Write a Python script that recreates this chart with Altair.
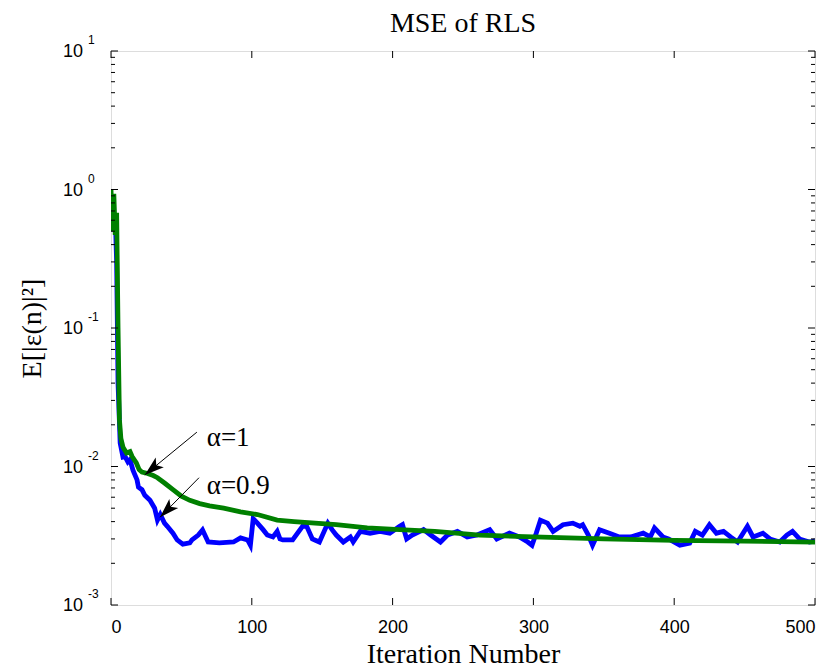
import altair as alt
import pandas as pd

# ---- MSE learning curves (iteration, E[|e(n)|^2]) ----
# forgetting factor alpha = 1
n_a1 = [0, 1, 2, 3, 4, 5, 6, 7, 8.5, 11, 13.5, 15, 18, 20, 22, 26, 30, 33, 38,
        44, 50, 56, 63, 70, 80, 92, 104, 118, 130, 145, 160, 182, 205, 230,
        262, 300, 350, 400, 450, 500]
mse_a1 = [1.0, 0.5, 0.93, 0.47, 0.68, 0.1, 0.0217, 0.016, 0.0138, 0.0125,
          0.0128, 0.0118, 0.0106, 0.0095, 0.0091, 0.0089, 0.0086, 0.0083,
          0.0076, 0.0068, 0.0061, 0.0057, 0.0054, 0.0052, 0.0050, 0.0047,
          0.0045, 0.0041, 0.0040, 0.0039, 0.0038, 0.0036, 0.0035, 0.0034,
          0.0032, 0.0031, 0.0030, 0.00293, 0.00289, 0.00284]

# forgetting factor alpha = 0.9
n_a09 = [0, 1, 2, 3, 4, 5, 6, 6.5, 8.5, 10, 12, 13.5, 15.6, 18.5, 19.5, 22, 24,
         27.7, 31, 33, 35, 38, 40, 44, 47, 51, 56, 57.5, 62, 65, 69, 77, 87,
         92, 97, 99, 101, 104, 108, 111, 115, 118, 120, 122, 129, 136, 139,
         143, 148, 154, 157, 160, 165, 170, 172, 177, 184, 191, 198, 205, 207,
         210, 214, 222, 227, 234, 239, 246, 253, 260, 269, 274, 283, 290, 296,
         299, 302, 305, 310, 314, 321, 328, 333, 335, 339, 342, 347, 354, 361,
         369, 378, 383, 386, 392, 396, 404, 411, 415, 420, 425, 430, 435, 440,
         445, 452, 456, 463, 468, 475, 480, 484, 489, 496, 500]
mse_a09 = [0.5, 0.72, 0.6, 0.65, 0.3, 0.04, 0.0206, 0.0148, 0.0117, 0.0118,
           0.0108, 0.0112, 0.0094, 0.0080, 0.0071, 0.0068, 0.0062, 0.0057,
           0.0050, 0.0041, 0.0045, 0.0039, 0.0037, 0.0033, 0.00295, 0.00275,
           0.00281, 0.00295, 0.0032, 0.00348, 0.00285, 0.00281, 0.00285,
           0.00305, 0.00295, 0.0027, 0.0042, 0.0039, 0.0035, 0.0032, 0.0031,
           0.0034, 0.0030, 0.00295, 0.00295, 0.0037, 0.0037, 0.0030, 0.00285,
           0.0039, 0.0035, 0.0032, 0.00285, 0.0031, 0.00285, 0.0034, 0.0033,
           0.0034, 0.0033, 0.0037, 0.0038, 0.0030, 0.0032, 0.0035, 0.0032,
           0.00285, 0.0032, 0.0034, 0.0031, 0.0032, 0.0035, 0.0030, 0.0033,
           0.0031, 0.00285, 0.0027, 0.0033, 0.0041, 0.0039, 0.0034, 0.0038,
           0.0039, 0.0037, 0.0038, 0.0032, 0.0027, 0.0035, 0.0033, 0.0031,
           0.0031, 0.0033, 0.0031, 0.0036, 0.0031, 0.0030, 0.0027, 0.0028,
           0.0034, 0.0032, 0.0038, 0.0033, 0.0034, 0.0031, 0.00285, 0.0037,
           0.0031, 0.0033, 0.0030, 0.00285, 0.0032, 0.0034, 0.0030, 0.00285,
           0.0029]

# ---- axes ----
x_ticks = [0, 100, 200, 300, 400, 500]
decade_exps = [-3, -2, -1, 0, 1]
minor_mult = [2, 3, 4, 5, 6, 7, 8, 9]

# ---- annotations: label text, label anchor, arrow start/tip, arrow angle ----
ann_text = ["α=1", "α=0.9"]
ann_text_n = [68, 68]
ann_text_v = [0.0141, 0.0063]
ann_from_n = [61, 62.5]
ann_from_v = [0.0177, 0.0083]
ann_tip_n = [24, 34.8]
ann_tip_v = [0.0087, 0.0043]
ann_angle = [230, 225]

W, H = 704, 554
SERIF = "Liberation Serif"
SANS = "Liberation Sans"

xs = alt.Scale(domain=[0, 500], nice=False, zero=False)
ys = alt.Scale(type="log", domain=[1e-3, 10], nice=False)

# every layer shares these two encodings so the axes merge cleanly
x_enc = alt.X(
    "n:Q", scale=xs,
    axis=alt.Axis(values=x_ticks, ticks=False, domain=False, grid=False,
                  labelFont=SANS, labelFontSize=18, labelColor="black",
                  labelPadding=13, title="Iteration Number", titleFont=SERIF,
                  titleFontSize=28, titleFontWeight="normal", titleColor="black",
                  titlePadding=4),
)
y_enc = alt.Y(
    "v:Q", scale=ys,
    axis=alt.Axis(labels=False, ticks=False, domain=False, grid=False,
                  title="E[|ε(n)|²]", titleFont=SERIF, titleFontSize=28,
                  titleFontWeight="normal", titleColor="black", titlePadding=65),
)

df_a1 = pd.DataFrame({"n": n_a1, "v": mse_a1})
df_a09 = pd.DataFrame({"n": n_a09, "v": mse_a09})

line_a09 = alt.Chart(df_a09).mark_line(color="#0000ff", strokeWidth=4.8, clip=True).encode(
    x=x_enc, y=y_enc)
line_a1 = alt.Chart(df_a1).mark_line(color="#008000", strokeWidth=4.8, clip=True).encode(
    x=x_enc, y=y_enc)

# inside tick marks on all four sides of the box
major_df = pd.DataFrame({"v": [10.0 ** e for e in decade_exps]})
minor_df = pd.DataFrame({"v": [m * 10.0 ** e for e in decade_exps[:-1] for m in minor_mult]})
xt_df = pd.DataFrame({"n": x_ticks})

def ytick(df, x0, x1):
    return alt.Chart(df).mark_rule(color="black", strokeWidth=1).encode(
        y=y_enc, x=alt.value(x0), x2=alt.value(x1))

def xtick(y0, y1):
    return alt.Chart(xt_df).mark_rule(color="black", strokeWidth=1).encode(
        x=x_enc, y=alt.value(y0), y2=alt.value(y1))

ticks = [
    ytick(major_df, 0, 7), ytick(major_df, W, W - 7),
    ytick(minor_df, 0, 4), ytick(minor_df, W, W - 4),
    xtick(H, H - 7), xtick(0, 7),
]

# y tick labels as 10 with a raised exponent
ylab_df = pd.DataFrame({"v": [10.0 ** e for e in decade_exps],
                        "base": ["10"] * len(decade_exps),
                        "ex": [str(e) for e in decade_exps]})
ylab_base = alt.Chart(ylab_df).mark_text(
    align="right", baseline="middle", font=SANS, fontSize=18, color="black", dy=1
).encode(y=y_enc, x=alt.value(-28), text="base:N")
ylab_exp = alt.Chart(ylab_df).mark_text(
    align="left", baseline="middle", font=SANS, fontSize=12, color="black", dy=-11
).encode(y=y_enc, x=alt.value(-23), text="ex:N")

# annotation arrows and labels
arrow_df = pd.DataFrame({"n": ann_from_n, "v": ann_from_v,
                         "n2": ann_tip_n, "v2": ann_tip_v})
head_df = pd.DataFrame({"n": ann_tip_n, "v": ann_tip_v, "ang": ann_angle})
label_df = pd.DataFrame({"n": ann_text_n, "v": ann_text_v, "label": ann_text})

ann_lines = alt.Chart(arrow_df).mark_rule(color="black", strokeWidth=1).encode(
    x=x_enc, y=y_enc, x2="n2:Q", y2="v2:Q")
ann_heads = alt.Chart(head_df).mark_point(
    shape="M0,0 L0.42,1.3 L0,1.0 L-0.42,1.3 Z", filled=True, opacity=1,
    color="black", size=900, strokeWidth=0
).encode(x=x_enc, y=y_enc, angle=alt.Angle("ang:Q", scale=None))
ann_labels = alt.Chart(label_df).mark_text(
    align="left", baseline="alphabetic", font=SERIF, fontSize=27, color="black"
).encode(x=x_enc, y=y_enc, text="label:N")

# chart title drawn as a text mark centred above the plot box
title_df = pd.DataFrame({"t": ["MSE of RLS"]})
title_mark = alt.Chart(title_df).mark_text(
    align="center", baseline="alphabetic", font=SERIF, fontSize=28, color="black"
).encode(x=alt.value(W / 2), y=alt.value(-19), text="t:N")

chart = alt.layer(
    line_a09, line_a1, *ticks, ylab_base, ylab_exp, ann_lines, ann_heads, ann_labels,
    title_mark
).properties(
    width=W, height=H,
    autosize=alt.AutoSizeParams(type="none"),
    padding={"left": 111, "top": 51, "right": 15, "bottom": 64},
).configure_view(stroke="black", strokeWidth=1.2).configure(background="white")

chart.save("out.html", embed_options={"renderer": "svg", "actions": False})
